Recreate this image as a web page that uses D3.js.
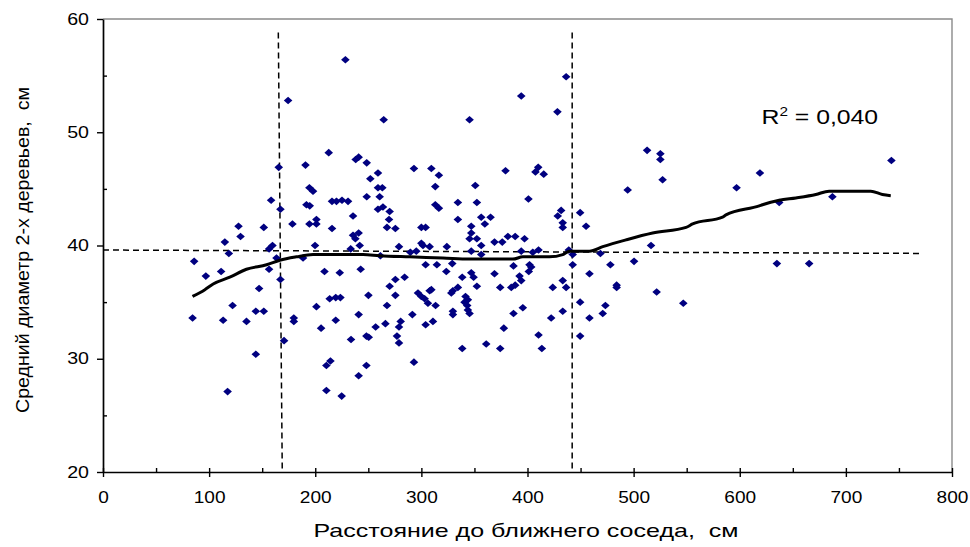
<!DOCTYPE html>
<html lang="ru">
<head>
<meta charset="utf-8">
<script src="https://cdn.jsdelivr.net/npm/d3@7"></script>
<style>
  body { margin: 0; background: #fff; }
  text { font-family: "Liberation Sans", Arial, sans-serif; fill: #000; white-space: pre; }
</style>
</head>
<body>
<script>

// scatter: distance to nearest neighbour (cm) vs mean diameter of 2 trees (cm)
var distance = [
  228.4,174.4,212.7,238.1,240.9,248.5,190.8,165.6,251.9,194.5,197.9,248.5,158.4,191.7,194.8,215.8,220.0,225.2,230.9,167.2,
  235.6,127.7,151.5,178.5,194.5,201.1,201.1,215.8,
  436.4,394.1,428.2,264.5,345.4,293.0,309.4,316.5,259.1,379.3,410.1,407.5,415.3,313.1,350.8,259.1,263.2,260.7,259.1,263.8,
  270.1,269.5,267.6,275.5,313.1,316.5,334.4,352.3,334.4,356.4,365.2,359.8,347.0,300.0,304.0,400.9,431.7,428.5,433.2,433.2,
  235.6,240.9,237.8,241.9,129.6,114.8,159.7,156.5,199.8,233.4,118.6,85.9,163.5,188.5,96.9,111.3,156.5,208.7,223.1,242.8,
  167.2,147.1,213.6,219.3,223.7,250.1,122.1,144.0,151.5,201.1,84.4,113.2,135.2,179.8,179.8,219.3,240.9,205.5,256.9,170.6,
  233.7,248.2,250.4,144.0,210.5,214.3,248.2,240.9,117.4,210.5,224.9,
  347.0,345.4,352.3,368.9,376.2,381.5,388.4,397.2,278.9,300.0,301.5,307.8,324.0,356.4,347.0,289.6,295.2,261.4,394.1,405.0,
  410.4,356.4,304.0,314.6,329.1,386.8,401.9,403.5,401.2,323.5,368.9,347.0,349.2,338.5,392.5,394.1,275.5,284.2,270.1,334.4,
  329.7,328.2,352.3,374.3,384.7,388.4,423.8,433.2,436.4,275.5,296.8,300.0,303.1,309.4,307.8,341.6,343.8,340.7,343.2,267.6,
  306.2,313.4,343.8,345.4,329.7,329.7,291.5,386.8,395.6,433.2,422.3,266.1,280.5,278.9,304.0,310.9,277.0,278.9,377.7,410.4,
  361.1,338.5,374.3,413.5,293.0,
  512.7,525.2,525.2,527.3,494.4,597.0,449.6,455.2,438.9,442.6,442.6,468.7,478.1,500.4,516.4,458.4,484.0,484.0,521.7,449.6,
  473.4,470.9,458.4,546.8,449.6,
  619.0,742.9,637.2,687.3,635.0,665.4
];
var diameter = [
  56.4,52.8,48.2,47.6,47.8,47.3,47.1,46.9,45.9,45.1,44.8,44.3,44.0,43.6,43.5,43.9,43.9,44.0,43.9,43.2,
  42.6,41.7,41.6,41.9,41.9,42.3,41.9,41.5,
  54.9,53.2,51.8,51.1,51.1,46.8,46.8,46.2,46.4,46.6,46.9,46.5,46.3,45.2,45.3,45.1,45.1,44.3,43.2,43.4,
  43.0,42.3,41.6,41.5,43.6,43.3,43.8,43.8,42.3,42.5,42.5,41.9,41.7,41.6,41.6,44.1,43.1,42.6,42.0,41.6,
  40.9,41.1,40.6,40.0,40.8,40.3,40.0,39.7,40.0,39.7,39.3,38.6,38.9,38.9,37.3,37.7,37.9,37.7,37.6,37.9,
  37.0,36.2,35.3,35.4,35.4,35.6,34.7,34.2,34.2,34.6,33.6,33.4,33.3,33.6,33.3,33.4,33.9,32.7,32.8,31.6,
  31.7,32.0,31.9,30.4,29.4,29.8,29.4,28.5,27.1,27.2,26.7,
  41.1,40.6,40.6,40.3,40.3,40.8,40.8,40.6,39.9,40.2,40.0,39.9,39.9,40.0,39.5,39.4,39.5,39.1,39.5,39.4,
  39.6,39.2,38.3,38.3,38.4,38.2,38.3,38.1,37.7,37.7,37.5,37.6,37.2,37.2,37.3,36.9,37.0,37.2,36.4,36.3,
  36.0,35.8,36.4,36.3,36.3,36.5,36.3,36.9,36.3,35.6,35.8,35.5,35.3,36.1,36.0,35.5,35.2,35.0,34.7,34.7,
  34.9,34.7,34.3,34.0,34.2,33.9,33.9,34.0,34.5,34.2,33.6,33.1,33.3,32.8,33.0,33.3,32.0,31.4,32.7,32.1,
  31.3,30.9,30.9,30.9,29.7,
  48.4,48.1,47.6,45.8,44.9,45.1,42.9,41.7,39.6,39.2,38.3,39.3,38.3,38.6,40.0,37.5,36.5,36.3,35.9,35.0,
  34.7,34.0,33.6,34.9,32.0,
  46.4,47.5,43.8,44.3,38.4,38.4
];

// smoothed trend line
var trendX = [84.4,96.0,103.8,119.5,135.2,154.1,166.6,182.3,197.9,216.8,245.0,260.7,288.9,320.3,345.4,386.2,395.6,
  420.7,433.2,439.5,458.4,470.9,492.9,517.9,549.4,555.6,583.8,587.0,618.4,621.4,637.2,652.9,671.7,684.2,723.5,734.4,742.3];
var trendY = [35.5,36.1,36.6,37.2,37.9,38.3,38.7,39.0,39.2,39.2,39.2,39.1,39.0,38.9,38.8,38.8,39.0,
  39.0,39.2,39.5,39.5,39.9,40.5,41.1,41.6,41.9,42.5,42.7,43.5,43.6,44.0,44.2,44.5,44.8,44.8,44.5,44.4];

// dashed guide lines (data units)
var guideLines = [
  {x1: 165.2, y1: 58.8, x2: 168.9, y2: 20.2},
  {x1: 442.1, y1: 58.8, x2: 442.1, y2: 20.2},
  {x1: 0, y1: 39.6, x2: 772, y2: 39.3}
];

var xTicks = [0,100,200,300,400,500,600,700,800];
var xMinor = [50,150,250,350,450,550,650,750];
var yTicks = [20,30,40,50,60];
var yMinor = [25,35,45,55];

var xTitle = "Расстояние до ближнего соседа,  см";
var yTitle = "Средний диаметр 2-х деревьев,  см";

var width = 970, height = 547;

var x = d3.scaleLinear().domain([0, 800]).range([103, 952]);
var y = d3.scaleLinear().domain([20, 60]).range([472, 19]);

var svg = d3.select("body").append("svg")
  .attr("width", width)
  .attr("height", height);

// plot area border (top / right)
svg.append("path")
  .attr("d", "M" + x(0) + "," + y(60) + "H" + x(800) + "V" + y(20))
  .attr("fill", "none")
  .attr("stroke", "#8a8a8a")
  .attr("stroke-width", 1.4);

// guides
svg.selectAll(".guide")
  .data(guideLines)
  .enter().append("line")
  .attr("class", "guide")
  .attr("x1", function(d) { return x(d.x1); })
  .attr("y1", function(d) { return y(d.y1); })
  .attr("x2", function(d) { return x(d.x2); })
  .attr("y2", function(d) { return y(d.y2); })
  .attr("stroke", "#000")
  .attr("stroke-width", 1.5)
  .attr("stroke-dasharray", "6,4");

// points
var diamond = "M0,-3.8L4.3,0L0,3.8L-4.3,0Z";
svg.selectAll(".pt")
  .data(distance)
  .enter().append("path")
  .attr("class", "pt")
  .attr("d", diamond)
  .attr("transform", function(d, i) { return "translate(" + x(d) + "," + y(diameter[i]) + ")"; })
  .attr("fill", "#000080");

// trend
var line = d3.line()
  .x(function(d, i) { return x(trendX[i]); })
  .y(function(d) { return y(d); })
  .curve(d3.curveMonotoneX);

svg.append("path")
  .datum(trendY)
  .attr("d", line)
  .attr("fill", "none")
  .attr("stroke", "#000")
  .attr("stroke-width", 3)
  .attr("stroke-linejoin", "round");

// axes
function styleAxis(g) {
  g.select(".domain").attr("stroke", "#000").attr("stroke-width", 1.7);
  g.selectAll(".tick line").attr("stroke", "#000").attr("stroke-width", 1.4);
}

var xAxis = svg.append("g")
  .attr("transform", "translate(0," + y(20) + ")")
  .call(d3.axisBottom(x).tickValues(xTicks).tickSize(5).tickSizeOuter(0))
  .call(styleAxis);
xAxis.selectAll("text")
  .attr("y", 31).attr("dy", 0)
  .attr("font-size", 16)
  .attr("textLength", function() { return this.textContent.length * 10.6; })
  .attr("lengthAdjust", "spacingAndGlyphs");

svg.append("g")
  .attr("transform", "translate(0," + y(20) + ")")
  .call(d3.axisBottom(x).tickValues(xTicks.concat(xMinor)).tickSize(-4).tickFormat(""))
  .call(styleAxis)
  .select(".domain").remove();

var yAxis = svg.append("g")
  .attr("transform", "translate(" + x(0) + ",0)")
  .call(d3.axisLeft(y).tickValues(yTicks).tickSize(6).tickSizeOuter(0))
  .call(styleAxis);
yAxis.selectAll("text")
  .attr("x", -14)
  .attr("font-size", 16)
  .attr("textLength", function() { return this.textContent.length * 10.9; })
  .attr("lengthAdjust", "spacingAndGlyphs");

svg.append("g")
  .attr("transform", "translate(" + x(0) + ",0)")
  .call(d3.axisLeft(y).tickValues(yMinor).tickSize(-4).tickFormat(""))
  .call(styleAxis)
  .select(".domain").remove();

// axis titles
svg.append("text")
  .attr("x", 526).attr("y", 537)
  .attr("text-anchor", "middle")
  .attr("font-size", 18.5)
  .attr("textLength", 425)
  .attr("lengthAdjust", "spacingAndGlyphs")
  .text(xTitle);

svg.append("text")
  .attr("transform", "translate(29,250) rotate(-90)")
  .attr("text-anchor", "middle")
  .attr("font-size", 18)
  .attr("textLength", 326)
  .attr("lengthAdjust", "spacingAndGlyphs")
  .text(yTitle);

// R^2 label
var r2 = svg.append("g")
  .attr("transform", "translate(" + x(620.5) + "," + y(50.7) + ") scale(1.18,1)")
  .append("text")
  .attr("font-size", 21);
r2.append("tspan").text("R");
r2.append("tspan").attr("dy", -8).attr("font-size", 13).text("2");
r2.append("tspan").attr("dy", 8).text(" = 0,040");

</script>
</body>
</html>
